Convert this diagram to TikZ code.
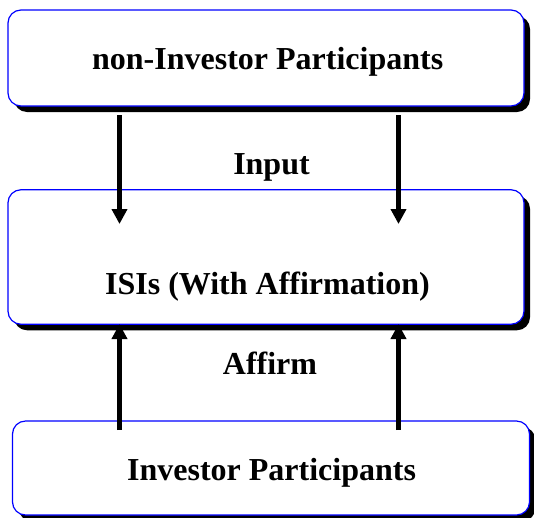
\documentclass[tikz,border=0pt]{standalone}
\usepackage{fontspec}
\setmainfont{Liberation Serif}[Ligatures=NoCommon]
\usetikzlibrary{arrows.meta,shadows}
\begin{document}
\begin{tikzpicture}[x=1pt,y=-1pt,
  panel/.style={draw=blue, line width=1.2pt, fill=white, rounded corners=13pt,
    inner sep=0pt, drop shadow={shadow xshift=6pt, shadow yshift=-6pt, opacity=1, fill=black}},
  lbl/.style={font=\fontsize{32}{36}\selectfont\bfseries, anchor=base, inner sep=0pt},
  arr/.style={line width=4.5pt, -{Triangle[length=15pt,width=15pt]}}]
\useasboundingbox (0,0) rectangle (534,517);
\clip (0,0) rectangle (534,517);
\node[panel, minimum width=516pt, minimum height=96pt] (b1) at (266,58) {};
\node[panel, minimum width=516pt, minimum height=134.5pt] (b2) at (266,257) {};
\node[panel, minimum width=517pt, minimum height=94pt] (b3) at (271,468) {};
\node[lbl] (t1) at (267.7,69.5) {non-Investor Participants};
\node[lbl] (t2) at (267.5,294.5) {ISIs (With Affirmation)};
\node[lbl] (t3) at (271.6,480.5) {Investor Participants};
\node[lbl] (in) at (271.5,174) {Input};
\node[lbl] (af) at (270,374.3) {Affirm};
\coordinate (d1s) at (119.5,115);
\coordinate (d1e) at (119.5,224);
\coordinate (d2s) at (398.5,115);
\coordinate (d2e) at (398.5,224);
\coordinate (u1s) at (119.5,430);
\coordinate (u1e) at (119.5,324);
\coordinate (u2s) at (398.5,430);
\coordinate (u2e) at (398.5,324);
\draw[arr] (d1s) -- (d1e);
\draw[arr] (d2s) -- (d2e);
\draw[arr] (u1s) -- (u1e);
\draw[arr] (u2s) -- (u2e);
\end{tikzpicture}
\end{document}
